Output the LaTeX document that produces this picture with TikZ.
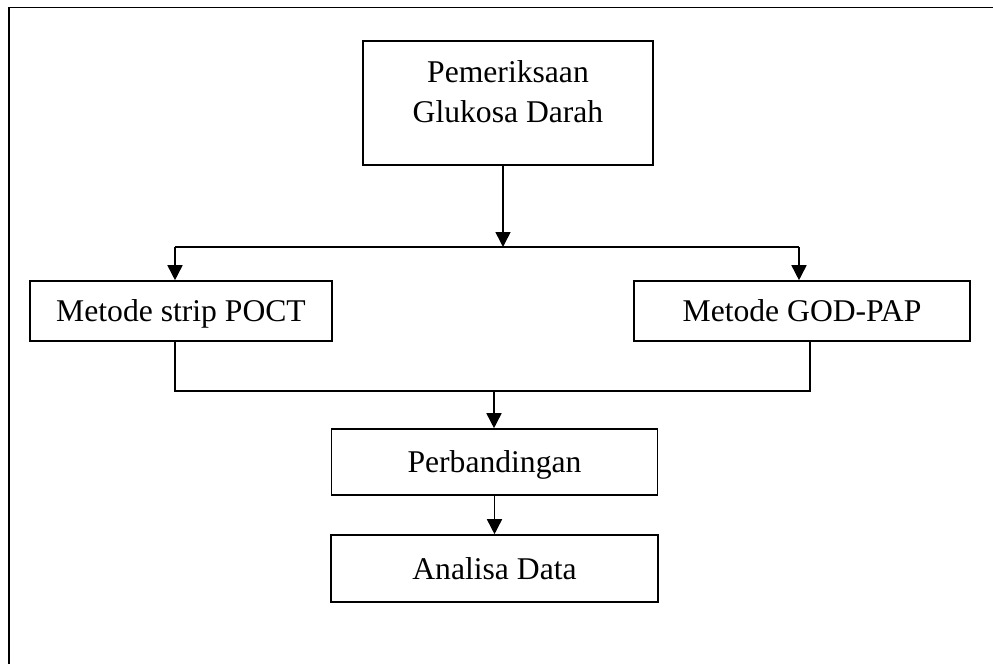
\documentclass[tikz,border=0pt]{standalone}
\usepackage{fontspec}
\setmainfont{Liberation Serif}
\usetikzlibrary{positioning,arrows.meta}

\begin{document}
\begin{tikzpicture}[node distance=24mm,on grid,line width=0.9pt,
		proc/.style={draw,rectangle,inner sep=0pt,font=\fontsize{18pt}{22.8pt}\selectfont},
		step1/.style={proc,text height=0.42cm,text depth=0cm},
		flow/.style={-{Triangle[length=0.3cm,width=0.3cm]}}]
		\useasboundingbox (0,0) rectangle (19.86,-13.28);
		% outer frame, cut off at right and bottom
		\draw (0.18,-13.28) -- (0.18,-0.15) -- (19.86,-0.15);

		\node[proc,align=center,anchor=north,minimum width=5.8cm,inner ysep=0.386cm,text depth=0.47cm] (top) at (10.16,-0.8) {Pemeriksaan\\Glukosa Darah};
		\node[step1,minimum width=6.04cm,minimum height=1.2cm] (lbox) at (3.62,-6.22) {Metode strip POCT};
		\node[step1,minimum width=6.72cm,minimum height=1.2cm] (rbox) [right=12.42cm of lbox] {Metode GOD-PAP};
		\node[step1,minimum width=6.52cm,minimum height=1.32cm] (cmp) at (9.89,-9.24) {Perbandingan};
		\node[step1,minimum width=6.54cm,minimum height=1.34cm] (ana) [below=2.13cm of cmp] {Analisa Data};

		\coordinate (split) at (10.06,-4.94);
		\coordinate (lsplit) at (3.5,-4.94);
		\coordinate (rsplit) at (15.98,-4.94);
		\coordinate (ljoin) at (3.5,-7.82);
		\coordinate (mjoin) at (9.88,-7.82);
		\coordinate (rjoin) at (16.2,-7.82);

		\draw[flow] (top.south -| split) -- (split);
		\draw (lsplit) -- (rsplit);
		\draw[flow] (lsplit) -- (lbox.north -| lsplit);
		\draw[flow] (rsplit) -- (rbox.north -| rsplit);

		\draw (lbox.south -| ljoin) -- (ljoin) -- (rjoin) -- (rbox.south -| rjoin);
		\draw[flow] (mjoin) -- (cmp.north -| mjoin);
		\draw[flow] (cmp) -- (ana);
	\end{tikzpicture}
\end{document}
